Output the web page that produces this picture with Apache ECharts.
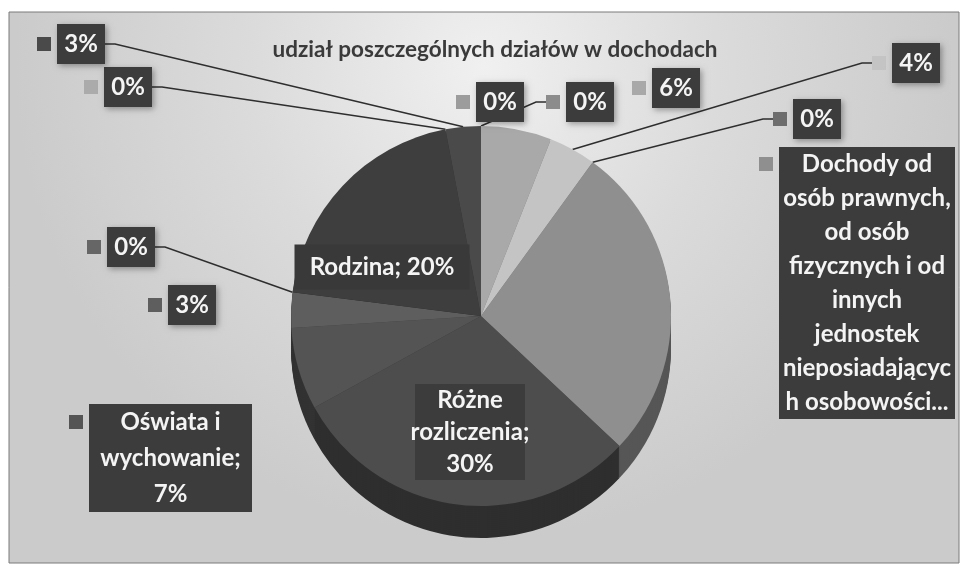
<!DOCTYPE html>
<html>
<head>
<meta charset="utf-8">
<script src="https://cdn.jsdelivr.net/npm/echarts@6/dist/echarts.min.js"></script>
<style>
html, body { margin: 0; padding: 0; background: #fff; }
#chart { width: 963px; height: 569px; }
</style>
</head>
<body>
<div id="chart"></div>
<script>
// dzialy budzetu (kolejnosc jak na wykresie, od godz. 12 zgodnie z zegarem)
var names = [
  'Rolnictwo i łowiectwo', 'Transport i łączność', 'Gospodarka mieszkaniowa',
  'Administracja publiczna', 'Bezpieczeństwo publiczne',
  'Dochody od osób prawnych, od osób fizycznych i od innych jednostek nieposiadających osobowości prawnej',
  'Różne rozliczenia', 'Oświata i wychowanie', 'Pomoc społeczna',
  'Edukacyjna opieka wychowawcza', 'Rodzina', 'Gospodarka komunalna', 'Kultura fizyczna'
];
var values = [0, 0, 6, 4, 0, 27, 30, 7, 3, 0, 20, 0, 3];
// teksty etykiet (zawiniete jak w oryginale), {p} = procent
var labelNames = [
  null, null, null, null, null,
  'Dochody od\nosób prawnych,\nod osób\nfizycznych i od\ninnych\njednostek\nnieposiadającyc\nh osobowości...',
  'Różne\nrozliczenia;\n{p}', 'Oświata i\nwychowanie;\n{p}', null, null,
  'Rodzina; {p}', null, null
];
var titleText = 'udział poszczególnych działów w dochodach';

// wyglad
var colors = ['#9c9c9c', '#8c8c8c', '#a9a9a9', '#c4c4c4', '#6e6e6e', '#8f8f8f',
  '#4d4d4d', '#545454', '#5e5e5e', '#666666', '#3e3e3e', '#ababab', '#4a4a4a'];
// pozycje etykiet: [x, y, align, verticalAlign, styl pudelka]
var labelPos = [
  [456, 82], [546, 82], [632, 68], [872, 43], [773, 99], [759, 147, 'left', 'top', 'b3'],
  [470, 432, 'center', 'middle', 'c2'], [69, 404, 'left', 'top', 'b2'], [148, 285], [87, 227],
  [382, 267, 'center', 'middle', 'c1'], [84, 67], [37, 24]
];
var noLine = [0, 2, 5, 6, 7, 8, 10];
var inside = [6, 10];

var cx = 481, cy = 316, r = 190, depth = 32;

function darken(hex, f) {
  var n = parseInt(hex.slice(1), 16);
  var rr = Math.round(((n >> 16) & 255) * f), gg = Math.round(((n >> 8) & 255) * f), bb = Math.round((n & 255) * f);
  return 'rgb(' + rr + ',' + gg + ',' + bb + ')';
}

function box(w, h, bg) {
  return { width: w, height: h, lineHeight: h, backgroundColor: bg, color: '#f4f4f4', fontSize: 24,
    fontWeight: 'bold', fontFamily: 'Lato', align: 'center' };
}
var rich = {
  s: { width: 6 },
  e: { width: 14 },
  b1: box(48, 40, '#3c3c3c'),
  b2: box(163, 36, '#3c3c3c'),
  b3: box(176, 34, '#3c3c3c'),
  c1: box(175, 45, '#393939'),
  c2: box(110, 32, '#3c3c3c')
};
rich.b1.shadowColor = 'rgba(0,0,0,0.35)';
rich.b1.shadowBlur = 6;
rich.b1.shadowOffsetX = 2;
rich.b1.shadowOffsetY = 2;
colors.forEach(function (c, i) {
  rich['k' + i] = { width: 14, height: 14, backgroundColor: c };
});

function labelText(p) {
  var i = p.dataIndex;
  var txt = labelNames[i] ? labelNames[i].replace('{p}', values[i] + '%') : values[i] + '%';
  var b = labelPos[i][4] || 'b1';
  var lines = txt.split('\n');
  if (inside.indexOf(i) >= 0) {
    return lines.map(function (l) { return '{' + b + '|' + l + '}'; }).join('\n');
  }
  return lines.map(function (l, j) {
    return (j === 0 ? '{k' + i + '|}' : '{e|}') + '{s|}{' + b + '|' + l + '}';
  }).join('\n');
}

var topData = values.map(function (v, i) {
  var item = { name: names[i], value: v, itemStyle: { color: colors[i] } };
  if (inside.indexOf(i) >= 0) item.label = { position: 'inside' };
  if (noLine.indexOf(i) >= 0) item.labelLine = { show: false };
  return item;
});

var series = [];
// boczna sciana "3D" - kilka przesunietych kopii
for (var d = depth; d > 0; d -= 2) {
  series.push({
    type: 'pie', silent: true, z: 1, animation: false,
    center: [cx, cy + d], radius: r, startAngle: 90, clockwise: true,
    label: { show: false }, labelLine: { show: false },
    data: values.map(function (v, i) {
      return { name: names[i], value: v, itemStyle: { color: darken(colors[i], 0.6) } };
    })
  });
}
series.push({
  type: 'pie', z: 3, animation: false,
  center: [cx, cy], radius: r, startAngle: 90, clockwise: true,
  avoidLabelOverlap: false,
  emphasis: { disabled: true },
  label: { show: true, position: 'outside', formatter: labelText, rich: rich },
  labelLine: { show: true, length: 10, length2: 10, lineStyle: { color: '#2e2e2e', width: 1.5 } },
  labelLayout: function (p) {
    var pos = labelPos[p.dataIndex];
    return { x: pos[0], y: pos[1], align: pos[2] || 'left', verticalAlign: pos[3] || 'top' };
  },
  data: topData
});

var chart = echarts.init(document.getElementById('chart'));
chart.setOption({
  backgroundColor: '#ffffff',
  animation: false,
  title: {
    text: titleText, left: 490, top: 33, textAlign: 'center',
    textStyle: { fontFamily: 'Lato', fontWeight: 'bold', fontSize: 22.5, color: '#3a3a3a' }
  },
  graphic: [{
    type: 'rect', z: -10, silent: true,
    shape: { x: 9, y: 12, width: 950, height: 551 },
    style: {
      fill: new echarts.graphic.RadialGradient(0.5, 0.1, 0.85, [
        { offset: 0, color: '#f0f0f0' },
        { offset: 0.5, color: '#dbdbdb' },
        { offset: 1, color: '#cbcbcb' }
      ]),
      stroke: '#7a7a7a', lineWidth: 1
    }
  }],
  series: series
});
</script>
</body>
</html>
